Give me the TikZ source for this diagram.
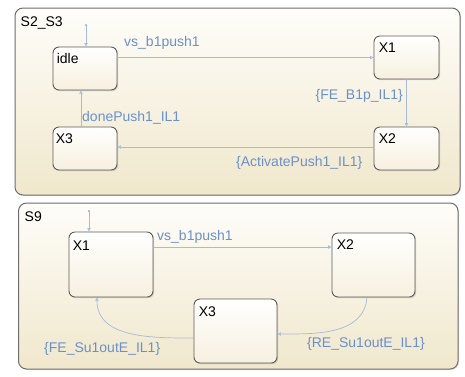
\documentclass[tikz,border=0pt]{standalone}
\usepackage{fontspec}
\setmainfont{Liberation Sans}
\usetikzlibrary{arrows.meta,shadows}

\definecolor{chartedge}{HTML}{6E6E6E}
\definecolor{charttop}{HTML}{FEFDF9}
\definecolor{chartbot}{HTML}{F0E7CC}
\definecolor{stateedge}{HTML}{5C5C5C}
\definecolor{statebot}{HTML}{F6F0DE}
\definecolor{trans}{HTML}{A6BBDA}
\definecolor{translabel}{HTML}{6A91C8}

\begin{document}
\begin{tikzpicture}[x=1pt,y=-1pt,
  chart/.style={draw=chartedge, line width=1pt, rounded corners=8pt,
    top color=charttop, bottom color=chartbot, inner sep=0pt,
    drop shadow={shadow xshift=1pt, shadow yshift=-1pt, opacity=0.25}},
  state/.style={draw=stateedge, line width=0.9pt, rounded corners=6pt,
    top color=white, bottom color=statebot, inner sep=0pt,
    drop shadow={shadow xshift=1.2pt, shadow yshift=-1.2pt, opacity=0.3}},
  smallstate/.style={state, minimum width=64pt, minimum height=43pt},
  bigstate/.style={state, minimum width=83pt, minimum height=64pt},
  statename/.style={font=\fontsize{14}{16}\selectfont, text=black, inner sep=0pt, anchor=base west},
  tlabel/.style={font=\fontsize{14}{16}\selectfont, text=translabel, inner sep=0pt},
  tr/.style={draw=trans, line width=0.7pt,
    -{Triangle[open, length=3.5pt, width=3.5pt]}},
  deftr/.style={draw=trans, line width=0.7pt,
    {Circle[length=2.2pt]}-{Triangle[open, length=3.5pt, width=3.5pt]}},
]
\useasboundingbox (0,0) rectangle (465,376);
\fill[white] (0,0) rectangle (465,376);

% ---- chart S2_S3 ----
\node[chart, minimum width=445pt, minimum height=187pt] (s23) at (237.5,101.5) {};
\node[statename] (s23-t) at ([shift={(6,19)}]s23.north west) {S2\_S3};

\node[smallstate] (idle) at (85,68.5) {};
\node[smallstate] (x3a) at (85,148.5) {};
\node[smallstate, minimum width=65pt] (x1a) at (406.5,57.5) {};
\node[smallstate, minimum width=65pt] (x2a) at (406.5,148.5) {};
\node[statename] (idle-t) at ([shift={(4,17)}]idle.north west) {idle};
\node[statename] (x3a-t) at ([shift={(3,17)}]x3a.north west) {X3};
\node[statename] (x1a-t) at ([shift={(5,17)}]x1a.north west) {X1};
\node[statename] (x2a-t) at ([shift={(5,17)}]x2a.north west) {X2};

\coordinate (d1) at (86,24);
\draw[deftr] (d1) -- (d1 |- idle.north);
\draw[tr] (idle.east |- x1a.west) -- (x1a.west);
\draw[tr] (x1a.south) -- (x2a.north);
\draw[tr] ([yshift=1.5pt]x2a.west) -- ([yshift=1.5pt]x3a.east);
\draw[tr] ([xshift=-4pt]x3a.north) -- ([xshift=-4pt]idle.south);

\node[tlabel, anchor=base west] (l1) at (124,46) {vs\_b1push1};
\node[tlabel, anchor=base east] (l2) at (403,99.5) {\{FE\_B1p\_IL1\}};
\node[tlabel, anchor=base west] (l3) at (82,121) {donePush1\_IL1};
\node[tlabel, anchor=base west] (l4) at (236,166.5) {\{ActivatePush1\_IL1\}};

% ---- chart S9 ----
\node[chart, minimum width=439.5pt, minimum height=166pt] (s9) at (238.25,286) {};
\node[statename] (s9-t) at ([shift={(6.5,19)}]s9.north west) {S9};

\node[bigstate, minimum width=84pt, minimum height=65pt] (x1b) at (111,264.5) {};
\node[bigstate] (x2b) at (373.5,265) {};
\node[bigstate] (x3b) at (235.5,331) {};
\node[statename] (x1b-t) at ([shift={(4,19)}]x1b.north west) {X1};
\node[statename] (x2b-t) at ([shift={(5,17)}]x2b.north west) {X2};
\node[statename] (x3b-t) at ([shift={(5,18)}]x3b.north west) {X3};

\coordinate (d2) at (89,210);
\draw[deftr] (d2) -- (d2 |- x1b.north);
\draw[tr] (x1b.east |- 0,247) -- (x2b.west |- 0,247);
\draw[tr] ([xshift=-6.5pt]x2b.south) to[out=-95, in=0] ([yshift=-3pt]x3b.east);
\draw[tr] ([yshift=-7pt]x3b.west) to[out=180, in=-90] ([xshift=-14pt]x1b.south);

\node[tlabel, anchor=base west] (l5) at (157,240.5) {vs\_b1push1};
\node[tlabel, anchor=base west] (l6) at (307,347.5) {\{RE\_Su1outE\_IL1\}};
\node[tlabel, anchor=base west] (l7) at (44,352.5) {\{FE\_Su1outE\_IL1\}};
\end{tikzpicture}
\end{document}
